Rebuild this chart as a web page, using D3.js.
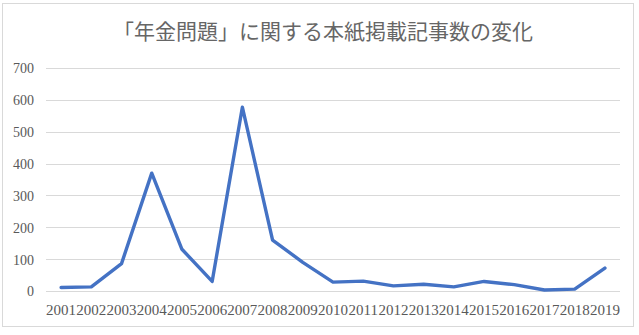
<!DOCTYPE html>
<html>
<head>
<meta charset="utf-8">
<script src="https://cdn.jsdelivr.net/npm/d3@7"></script>
<style>
body{margin:0;background:#fff;}
svg text{font-family:"Liberation Serif","DejaVu Serif","Noto Sans CJK JP",serif;fill:#595959;}
</style>
</head>
<body>
<div id="chart"></div>
<script>
var years=["2001","2002","2003","2004","2005","2006","2007","2008","2009","2010","2011","2012","2013","2014","2015","2016","2017","2018","2019"];
var counts=[11,13,86,370,131,30,577,160,90,28,31,16,21,13,30,20,3,6,72];
var yTicks=[0,100,200,300,400,500,600,700];
var title="「年金問題」に関する本紙掲載記事数の変化";

var W=639,H=335;
var plotLeft=46,plotRight=620,plotTop=68,plotBottom=291;

var svg=d3.select('#chart').append('svg')
    .attr('width',W)
    .attr('height',H);

svg.append('rect')
    .attr('x',2.5).attr('y',3.5)
    .attr('width',631).attr('height',323)
    .attr('fill','#fff')
    .attr('stroke','#d9d9d9');

var x=d3.scaleBand().domain(years).range([plotLeft,plotRight]);
var y=d3.scaleLinear().domain([0,700]).range([plotBottom,plotTop]);

//gridlines
svg.append('g').selectAll('line').data(yTicks)
    .enter().append('line')
        .attr('x1',plotLeft).attr('x2',plotRight)
        .attr('y1',function(d){return Math.round(y(d))+0.5;})
        .attr('y2',function(d){return Math.round(y(d))+0.5;})
        .attr('stroke','#d9d9d9')
        .attr('stroke-width',1);

var yAxis=svg.append('g')
    .attr('transform','translate('+(plotLeft-12)+',0)')
    .call(d3.axisLeft(y).tickValues(yTicks).tickSize(0).tickPadding(0));
yAxis.select('.domain').remove();
yAxis.selectAll('text').style('font-size','14px').attr('dy','0.35em');

var xAxis=svg.append('g')
    .attr('transform','translate(0,'+(plotBottom+5)+')')
    .call(d3.axisBottom(x).tickSize(0).tickPadding(8));
xAxis.select('.domain').remove();
xAxis.selectAll('text').style('font-size','15px');

var line=d3.line()
    .x(function(d,i){return x(years[i])+x.bandwidth()/2;})
    .y(function(d){return y(d);});

svg.append('path')
    .datum(counts)
    .attr('d',line)
    .attr('fill','none')
    .attr('stroke','#4472c4')
    .attr('stroke-width',3.4)
    .attr('stroke-linejoin','round')
    .attr('stroke-linecap','round');

svg.append('text')
    .attr('x',323)
    .attr('y',39)
    .attr('text-anchor','middle')
    .style('font-size','21px')
    .style('fill','#666')
    .text(title);
</script>
</body>
</html>
